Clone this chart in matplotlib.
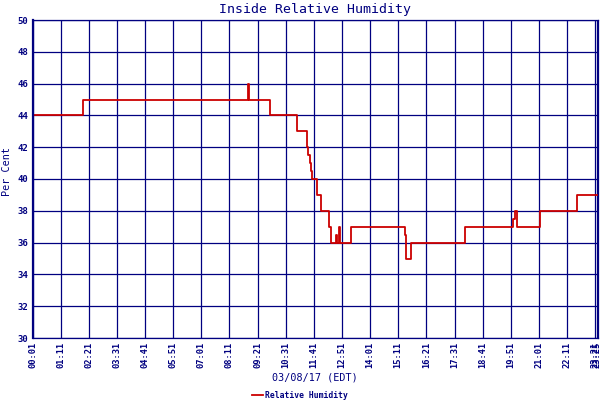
import matplotlib
matplotlib.use("Agg")
import matplotlib.pyplot as plt

# step change times (HH:MM) and humidity values
times = ["00:01", "02:06", "08:56", "08:59", "09:51", "10:58", "11:24", "11:27",
         "11:31", "11:34", "11:37", "11:48", "12:00", "12:19", "12:24",
         "12:36", "12:39", "12:43", "12:46", "13:13", "15:28", "15:31",
         "15:42", "17:56", "19:57", "20:01", "20:06", "21:04", "22:36", "23:28"]
humidity = [44, 45, 46, 45, 44, 43, 42, 41.5,
            41, 40.5, 40, 39, 38, 37, 36,
            36.5, 36, 37, 36, 37, 36.5, 35,
            36, 37, 37.5, 38, 37, 38, 39, 39]
tick_labels = ["00:01", "01:11", "02:21", "03:31", "04:41", "05:51", "07:01",
               "08:11", "09:21", "10:31", "11:41", "12:51", "14:01", "15:11",
               "16:21", "17:31", "18:41", "19:51", "21:01", "22:11", "23:21", "23:25"]
y_ticks = [30, 32, 34, 36, 38, 40, 42, 44, 46, 48, 50]


def to_min(s):
    h, m = s.split(":")
    return int(h) * 60 + int(m)


x = [to_min(t) for t in times]
xt = [to_min(t) for t in tick_labels]

navy = "#000080"
red = "#CC0000"
mono = "DejaVu Sans Mono"

fig = plt.figure(figsize=(6, 4), dpi=100)
ax = fig.add_axes([32.5 / 600, 1 - 338 / 400, (598 - 32.5) / 600, (338 - 20) / 400])

ax.step(x, humidity, where="post", color=red, linewidth=1.3, label="Relative Humidity")

ax.set_xlim(1, 1408)
ax.set_ylim(30, 50)
ax.set_xticks(xt)
ax.set_xticklabels(tick_labels, rotation=90, fontsize=6.3, fontweight="bold",
                   color=navy, family=mono)
ax.set_yticks(y_ticks)
ax.set_yticklabels([str(v) for v in y_ticks], fontsize=6.5, fontweight="bold",
                   color=navy, family=mono)
ax.tick_params(length=0, pad=3)
ax.grid(True, color=navy, linewidth=0.9)
ax.set_axisbelow(True)
for side, sp in ax.spines.items():
    sp.set_color(navy)
    sp.set_linewidth(0.9)
ax.spines["left"].set_linewidth(1.6)

fig.text(315 / 600, 1 - 9 / 400, "Inside Relative Humidity", ha="center", va="center",
         fontsize=9.5, color=navy, family=mono)
fig.text(315 / 600, 1 - 378 / 400, "03/08/17 (EDT)", ha="center", va="center",
         fontsize=7.3, color=navy, family=mono)
fig.text(7 / 600, 1 - 172 / 400, "Per Cent", ha="center", va="center", rotation=90,
         fontsize=7.3, color=navy, family=mono)

leg = fig.legend(loc="center", bbox_to_anchor=(300 / 600, 1 - 395 / 400), frameon=False,
                 handlelength=1.3, handletextpad=0.3, borderpad=0,
                 prop={"family": mono, "size": 5.8, "weight": "bold"})
for t in leg.get_texts():
    t.set_color(navy)

fig.savefig("out.png", dpi=100)
